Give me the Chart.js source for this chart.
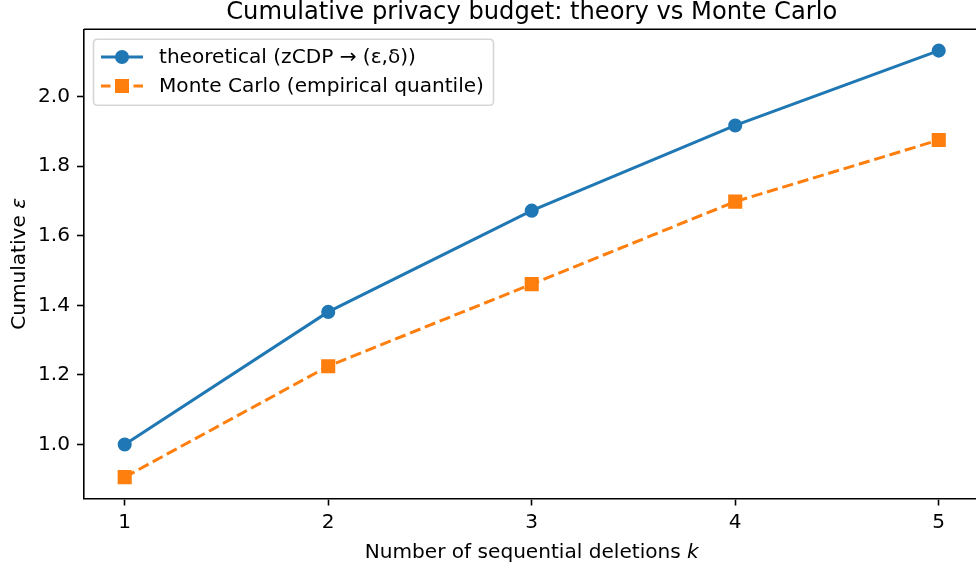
<!DOCTYPE html>
<html>
<head>
<meta charset="utf-8">
<script src="https://cdn.jsdelivr.net/npm/chart.js@4.4.1/dist/chart.umd.min.js"></script>
<style>
  html, body { margin: 0; padding: 0; background: #ffffff; overflow: hidden; }
  #wrap { width: 976px; height: 567px; overflow: hidden; position: relative; }
  canvas { display: block; }
</style>
</head>
<body>
<div id="wrap"><canvas id="c" width="990" height="567"></canvas></div>
<script>
// ---- data ----
const kValues = [1, 2, 3, 4, 5];
const theoretical = [1.000, 1.381, 1.672, 1.917, 2.132];
const monteCarlo = [0.906, 1.225, 1.461, 1.698, 1.875];
const xTicks = [1, 2, 3, 4, 5];
const yTicks = [1.0, 1.2, 1.4, 1.6, 1.8, 2.0];
const seriesLabels = ['theoretical (zCDP \u2192 (\u03b5,\u03b4))', 'Monte Carlo (empirical quantile)'];
const titleText = 'Cumulative privacy budget: theory vs Monte Carlo';
const xLabelParts = ['Number of sequential deletions ', 'k'];
const yLabelParts = ['Cumulative ', '\u03b5'];

// ---- style ----
const FONT = "'DejaVu Sans', sans-serif";
const FS = 20.1;
const TFS = 24.2;
const BLUE = '#1f77b4';
const ORANGE = '#ff7f0e';
const LW = 3.0;
const DASH = [11.2, 4.8];
const SPINE = 1.6;
const TICKLEN = 7;

const allVals = theoretical.concat(monteCarlo);
const yMinD = Math.min(...allVals), yMaxD = Math.max(...allVals);
const yPad = 0.05 * (yMaxD - yMinD);
const xPad = 0.05 * (kValues[kValues.length - 1] - kValues[0]);

const toPts = (arr) => kValues.map((k, i) => ({ x: k, y: arr[i] }));

const decorPlugin = {
  id: 'decor',
  afterDraw(chart) {
    const ctx = chart.ctx;
    const a = chart.chartArea;
    ctx.save();
    // top & right spines
    ctx.strokeStyle = '#000';
    ctx.lineWidth = SPINE;
    ctx.beginPath();
    ctx.moveTo(a.left, a.top);
    ctx.lineTo(a.right, a.top);
    ctx.lineTo(a.right, a.bottom);
    ctx.stroke();

    // title
    const cx = (a.left + a.right) / 2;
    ctx.fillStyle = '#000';
    ctx.font = TFS + 'px ' + FONT;
    ctx.textAlign = 'center';
    ctx.textBaseline = 'alphabetic';
    ctx.fillText(titleText, cx, 18.5);

    const drawMixed = (parts, x, y) => {
      ctx.font = FS + 'px ' + FONT;
      const w1 = ctx.measureText(parts[0]).width;
      ctx.font = 'oblique ' + FS + 'px ' + FONT;
      const w2 = ctx.measureText(parts[1]).width;
      const start = x - (w1 + w2) / 2;
      ctx.textAlign = 'left';
      ctx.font = FS + 'px ' + FONT;
      ctx.fillText(parts[0], start, y);
      ctx.font = 'oblique ' + FS + 'px ' + FONT;
      ctx.fillText(parts[1], start + w1, y);
    };
    ctx.textBaseline = 'alphabetic';
    drawMixed(xLabelParts, cx, 558);

    ctx.save();
    ctx.translate(25, (a.top + a.bottom) / 2);
    ctx.rotate(-Math.PI / 2);
    drawMixed(yLabelParts, 0, 0);
    ctx.restore();

    // legend
    const lx = 93.5, ly = 39.3, lw = 400, lh = 66, r = 4;
    ctx.beginPath();
    ctx.moveTo(lx + r, ly);
    ctx.lineTo(lx + lw - r, ly);
    ctx.quadraticCurveTo(lx + lw, ly, lx + lw, ly + r);
    ctx.lineTo(lx + lw, ly + lh - r);
    ctx.quadraticCurveTo(lx + lw, ly + lh, lx + lw - r, ly + lh);
    ctx.lineTo(lx + r, ly + lh);
    ctx.quadraticCurveTo(lx, ly + lh, lx, ly + lh - r);
    ctx.lineTo(lx, ly + r);
    ctx.quadraticCurveTo(lx, ly, lx + r, ly);
    ctx.closePath();
    ctx.fillStyle = 'rgba(255,255,255,0.8)';
    ctx.fill();
    ctx.strokeStyle = 'rgba(204,204,204,0.8)';
    ctx.lineWidth = 1.6;
    ctx.stroke();

    const rows = [57, 86];
    const x0 = 101, x1 = 143, xm = 122;
    ctx.strokeStyle = BLUE;
    ctx.lineWidth = LW;
    ctx.setLineDash([]);
    ctx.beginPath(); ctx.moveTo(x0, rows[0]); ctx.lineTo(x1, rows[0]); ctx.stroke();
    ctx.fillStyle = BLUE;
    ctx.beginPath(); ctx.arc(xm, rows[0], 7, 0, Math.PI * 2); ctx.fill();

    ctx.strokeStyle = ORANGE;
    ctx.beginPath(); ctx.moveTo(x0, rows[1]); ctx.lineTo(x0 + 9.5, rows[1]); ctx.stroke();
    ctx.beginPath(); ctx.moveTo(x1 - 9.5, rows[1]); ctx.lineTo(x1, rows[1]); ctx.stroke();
    ctx.fillStyle = ORANGE;
    ctx.fillRect(xm - 7, rows[1] - 7, 14, 14);

    ctx.fillStyle = '#000';
    ctx.font = FS + 'px ' + FONT;
    ctx.textAlign = 'left';
    ctx.textBaseline = 'middle';
    ctx.fillText(seriesLabels[0], 159, rows[0] + 1);
    ctx.fillText(seriesLabels[1], 159, rows[1] + 1);
    ctx.restore();
  }
};

new Chart(document.getElementById('c'), {
  type: 'line',
  data: {
    datasets: [
      {
        label: seriesLabels[0],
        data: toPts(theoretical),
        borderColor: BLUE,
        backgroundColor: BLUE,
        borderWidth: LW,
        pointStyle: 'circle',
        pointRadius: 6.05,
        pointBorderWidth: 2,
        pointBackgroundColor: BLUE,
        pointBorderColor: BLUE,
        tension: 0,
        fill: false
      },
      {
        label: seriesLabels[1],
        data: toPts(monteCarlo),
        borderColor: ORANGE,
        backgroundColor: ORANGE,
        borderWidth: LW,
        borderDash: DASH,
        pointStyle: 'rect',
        pointRadius: 8.56,
        pointBorderWidth: 2,
        pointBackgroundColor: ORANGE,
        pointBorderColor: ORANGE,
        tension: 0,
        fill: false
      }
    ]
  },
  options: {
    responsive: false,
    animation: false,
    devicePixelRatio: 1,
    layout: { padding: { top: 29.3, left: 0, right: 8.4, bottom: 0 } },
    plugins: {
      legend: { display: false },
      title: { display: false },
      tooltip: { enabled: false }
    },
    scales: {
      x: {
        type: 'linear',
        min: kValues[0] - xPad,
        max: kValues[kValues.length - 1] + xPad,
        afterFit(scale) { scale.height = 68.5; },
        afterBuildTicks(scale) { scale.ticks = xTicks.map(v => ({ value: v })); },
        ticks: {
          color: '#000',
          font: { family: FONT, size: FS },
          padding: 5,
          maxRotation: 0,
          callback: (v) => String(v)
        },
        grid: {
          display: true,
          drawOnChartArea: false,
          drawTicks: true,
          tickLength: TICKLEN,
          tickWidth: SPINE,
          tickColor: '#000'
        },
        border: { display: true, color: '#000', width: SPINE }
      },
      y: {
        type: 'linear',
        min: yMinD - yPad,
        max: yMaxD + yPad,
        afterFit(scale) { scale.width = 84; },
        afterBuildTicks(scale) { scale.ticks = yTicks.map(v => ({ value: v })); },
        ticks: {
          color: '#000',
          font: { family: FONT, size: FS },
          padding: 7,
          callback: (v) => Number(v).toFixed(1)
        },
        grid: {
          display: true,
          drawOnChartArea: false,
          drawTicks: true,
          tickLength: TICKLEN,
          tickWidth: SPINE,
          tickColor: '#000'
        },
        border: { display: true, color: '#000', width: SPINE }
      }
    }
  },
  plugins: [decorPlugin]
});
</script>
</body>
</html>
